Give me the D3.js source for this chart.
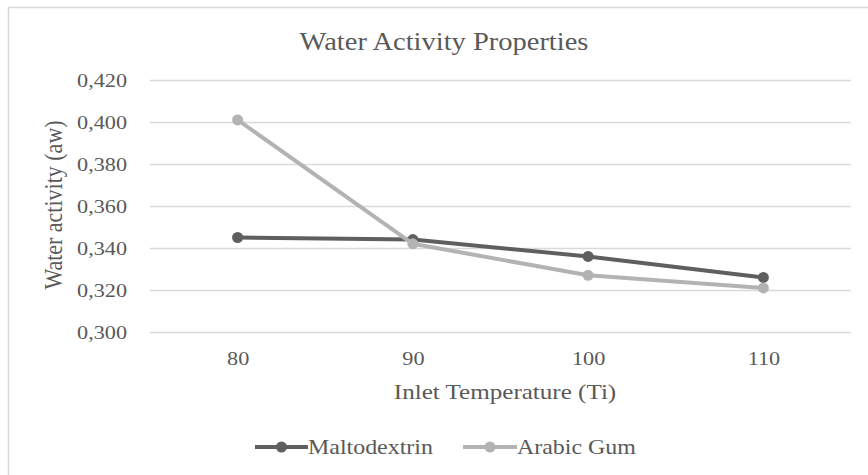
<!DOCTYPE html>
<html>
<head>
<meta charset="utf-8">
<script src="https://cdn.jsdelivr.net/npm/d3@7"></script>
<style>
  html, body { margin: 0; padding: 0; background: #fff; }
  svg { display: block; }
  text { font-family: "Liberation Serif", "Times New Roman", serif; fill: #595959; }
</style>
</head>
<body>
<svg id="chart" width="868" height="475"></svg>
<script>
// ---- data ----
const categories = ["80", "90", "100", "110"];
const maltodextrin = [0.345, 0.344, 0.336, 0.326];
const arabicGum = [0.401, 0.342, 0.327, 0.321];
const yTicks = [0.300, 0.320, 0.340, 0.360, 0.380, 0.400, 0.420];
const seriesNames = ["Maltodextrin", "Arabic Gum"];
const titleText = "Water Activity Properties";
const xTitle = "Inlet Temperature (Ti)";
const yTitle = "Water activity (aw)";

// ---- layout ----
const W = 868, H = 475;
const SX = 1.14; // horizontal stretch of text in reference
const plot = { left: 150, right: 851, top: 80, bottom: 332 };
const colors = ["#5f5f5f", "#b3b3b3"];

const svg = d3.select("#chart");

// outer chart border (extends past the right/bottom edge)
svg.append("rect")
  .attr("x", 8.5).attr("y", 7.5)
  .attr("width", W + 20).attr("height", H + 20)
  .attr("fill", "#fff").attr("stroke", "#d9d9d9").attr("stroke-width", 1.5);

const x = d3.scalePoint().domain(categories).range([plot.left, plot.right]).padding(0.5);
const y = d3.scaleLinear().domain([0.30, 0.42]).range([plot.bottom, plot.top]);

const locale = d3.formatLocale({ decimal: ",", thousands: ".", grouping: [3], currency: ["", ""] });
const fmt = locale.format(".3f");

// gridlines
const grid = svg.append("g")
  .attr("transform", `translate(${plot.left},0)`)
  .call(d3.axisLeft(y).tickValues(yTicks).tickSize(-(plot.right - plot.left)).tickFormat(""));
grid.select(".domain").remove();
grid.selectAll("line").attr("stroke", "#d9d9d9").attr("stroke-width", 1.5);

// y axis labels
const yAxis = svg.append("g")
  .attr("transform", `translate(${plot.left},0)`)
  .call(d3.axisLeft(y).tickValues(yTicks).tickSize(0).tickFormat(fmt));
yAxis.select(".domain").remove();
yAxis.selectAll("text")
  .attr("x", -23 / SX).attr("dy", null).attr("y", 6.5)
  .attr("transform", `scale(${SX},1)`)
  .style("font-family", "Liberation Serif").style("font-size", "19.5px").attr("fill", "#595959");

// x axis labels
const xAxis = svg.append("g")
  .attr("transform", `translate(0,${plot.bottom})`)
  .call(d3.axisBottom(x).tickSize(0));
xAxis.select(".domain").remove();
xAxis.selectAll(".tick text")
  .attr("y", 33).attr("dy", null)
  .attr("transform", function() {
    return `scale(${SX},1)`;
  })
  .style("font-family", "Liberation Serif").style("font-size", "19.5px").attr("fill", "#595959");
// keep centered when scaling: ticks are in translated groups, center x=0 so scaling is fine

// title
svg.append("text")
  .attr("transform", `translate(444,50) scale(${SX},1)`)
  .attr("text-anchor", "middle")
  .style("font-size", "25px")
  .text(titleText);

// axis titles
svg.append("text")
  .attr("transform", `translate(505,399) scale(${SX},1)`)
  .attr("text-anchor", "middle")
  .style("font-size", "22px")
  .text(xTitle);

svg.append("text")
  .attr("transform", `translate(62,205) scale(${SX},1) rotate(-90)`)
  .attr("text-anchor", "middle")
  .style("font-size", "22px")
  .text(yTitle);

// series
const series = [maltodextrin, arabicGum];
const line = d3.line().x((d, i) => x(categories[i])).y(d => y(d));

series.forEach((vals, si) => {
  svg.append("path")
    .datum(vals)
    .attr("fill", "none")
    .attr("stroke", colors[si])
    .attr("stroke-width", 4)
    .attr("stroke-linejoin", "round")
    .attr("d", line);
  svg.selectAll(null)
    .data(vals)
    .enter().append("circle")
    .attr("cx", (d, i) => x(categories[i]))
    .attr("cy", d => y(d))
    .attr("r", 5.5)
    .attr("fill", colors[si]);
});

// legend
const legendItems = [
  { x0: 255, x1: 308, tx: 308 },
  { x0: 463, x1: 517, tx: 517 }
];
const ly = 447;
legendItems.forEach((it, i) => {
  const g = svg.append("g");
  g.append("line")
    .attr("x1", it.x0).attr("x2", it.x1).attr("y1", ly).attr("y2", ly)
    .attr("stroke", colors[i]).attr("stroke-width", 4);
  g.append("circle")
    .attr("cx", (it.x0 + it.x1) / 2).attr("cy", ly).attr("r", 5.5)
    .attr("fill", colors[i]);
  g.append("text")
    .attr("transform", `translate(${it.tx},${ly + 7}) scale(${SX},1)`)
    .style("font-size", "21px")
    .text(seriesNames[i]);
});
</script>
</body>
</html>
